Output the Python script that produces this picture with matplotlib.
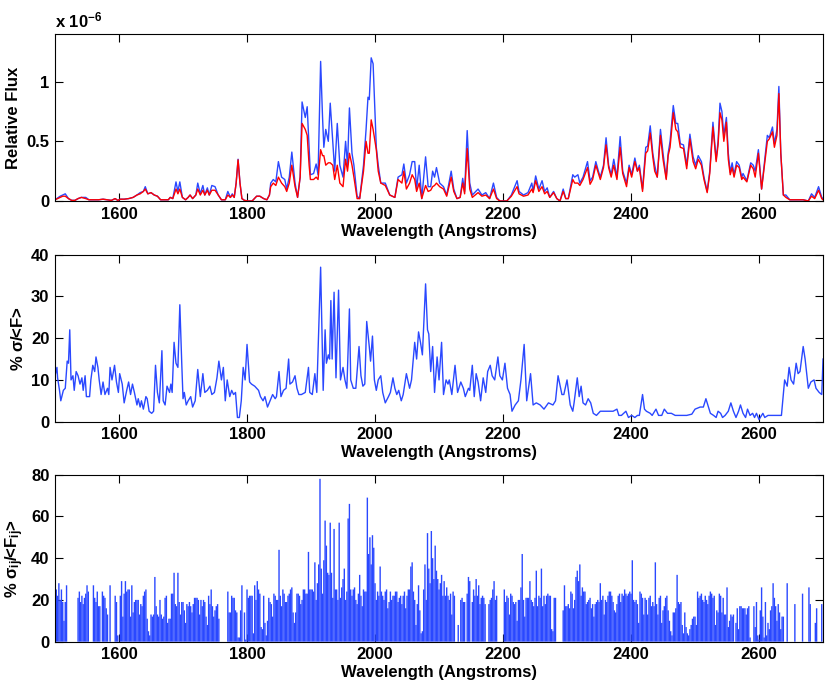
import numpy as np
import matplotlib
matplotlib.use('Agg')
from matplotlib import pyplot as plt

plt.rcParams['font.family'] = ['Liberation Sans', 'DejaVu Sans']
plt.rcParams['font.weight'] = 'bold'
plt.rcParams['font.size'] = 12
plt.rcParams['mathtext.default'] = 'regular'

# --- panel 1: relative flux (units of 1e-6), two spectra
wl1 = [1500, 1508, 1512, 1516, 1521, 1526, 1531, 1536, 1541, 1548, 1553, 1560, 1568, 1575, 1582,
       1588, 1594, 1598, 1602, 1608, 1615, 1622, 1628, 1633, 1638, 1641, 1645, 1650, 1655, 1660,
       1665, 1672, 1677, 1680, 1684, 1689, 1692, 1695, 1699, 1704, 1708, 1711, 1715, 1720, 1723,
       1727, 1731, 1734, 1738, 1741, 1745, 1750, 1755, 1760, 1766, 1770, 1774, 1777, 1780, 1783,
       1786, 1789, 1792, 1796, 1802, 1808, 1815, 1820, 1826, 1831, 1835, 1837, 1841, 1845, 1849,
       1854, 1859, 1862, 1866, 1870, 1875, 1879, 1883, 1886, 1891, 1894, 1897, 1899, 1904, 1908,
       1911, 1915, 1918, 1920, 1923, 1927, 1930, 1934, 1937, 1941, 1945, 1950, 1954, 1957, 1960,
       1964, 1967, 1972, 1976, 1982, 1986, 1989, 1991, 1994, 1997, 2002, 2005, 2009, 2016, 2023,
       2031, 2036, 2042, 2045, 2049, 2054, 2058, 2062, 2065, 2069, 2073, 2079, 2083, 2087, 2090,
       2093, 2096, 2101, 2107, 2112, 2119, 2123, 2128, 2133, 2137, 2140, 2144, 2148, 2152, 2161,
       2167, 2173, 2179, 2185, 2190, 2195, 2206, 2213, 2222, 2225, 2232, 2239, 2245, 2247, 2251,
       2256, 2261, 2265, 2269, 2273, 2279, 2284, 2289, 2294, 2298, 2302, 2309, 2312, 2317, 2320,
       2325, 2332, 2336, 2340, 2345, 2349, 2352, 2357, 2361, 2365, 2369, 2373, 2378, 2383, 2387,
       2393, 2397, 2401, 2406, 2410, 2413, 2418, 2423, 2426, 2430, 2434, 2437, 2441, 2446, 2450,
       2455, 2458, 2461, 2466, 2470, 2473, 2477, 2482, 2487, 2492, 2497, 2501, 2505, 2510, 2514,
       2519, 2523, 2528, 2533, 2536, 2539, 2542, 2545, 2549, 2552, 2555, 2558, 2561, 2565, 2569,
       2573, 2575, 2581, 2587, 2591, 2594, 2599, 2604, 2608, 2613, 2616, 2621, 2624, 2628, 2631,
       2634, 2638, 2642, 2648, 2659, 2669, 2677, 2682, 2687, 2693, 2698, 2700]
flux_blue = [0.01, 0.04, 0.05, 0.06, 0.02, 0.005, 0.005, 0.02, 0.03, 0.03, 0.01, 0.01, 0.01, 0.015, 0.01,
             0.005, 0.02, 0.005, 0.015, 0.015, 0.02, 0.03, 0.05, 0.07, 0.08, 0.12, 0.06, 0.07, 0.05, 0.04,
             0.01, 0.01, 0.01, 0.03, 0.02, 0.16, 0.08, 0.16, 0.03, 0.01, 0.03, 0.05, 0.02, 0.05, 0.15,
             0.06, 0.13, 0.05, 0.11, 0.05, 0.13, 0.12, 0.05, 0.01, 0.01, 0.08, 0.03, 0.06, 0.03, 0.15,
             0.35, 0.15, 0.02, 0.005, 0.0, 0.0, 0.04, 0.04, 0.02, 0.01, 0.05, 0.15, 0.18, 0.16, 0.33,
             0.2, 0.18, 0.1, 0.2, 0.41, 0.15, 0.03, 0.2, 0.83, 0.7, 0.79, 0.45, 0.22, 0.23, 0.31,
             0.22, 1.17, 0.7, 0.45, 0.6, 0.5, 0.82, 0.5, 0.25, 0.65, 0.3, 0.2, 0.5, 0.3, 0.78,
             0.4, 0.3, 0.04, 0.02, 0.3, 0.6, 0.87, 0.85, 1.2, 1.15, 0.45, 0.3, 0.15, 0.15, 0.05,
             0.03, 0.2, 0.22, 0.31, 0.15, 0.22, 0.33, 0.33, 0.1, 0.3, 0.02, 0.37, 0.12, 0.12, 0.25,
             0.2, 0.28, 0.15, 0.12, 0.05, 0.25, 0.1, 0.02, 0.03, 0.19, 0.08, 0.59, 0.15, 0.05, 0.1,
             0.05, 0.07, 0.02, 0.15, 0.03, 0.0, 0.0, 0.05, 0.17, 0.08, 0.05, 0.07, 0.15, 0.08, 0.21,
             0.1, 0.17, 0.08, 0.11, 0.03, 0.08, 0.02, 0.0, 0.1, 0.02, 0.02, 0.22, 0.2, 0.22, 0.15,
             0.2, 0.33, 0.17, 0.2, 0.33, 0.25, 0.2, 0.3, 0.53, 0.3, 0.22, 0.35, 0.2, 0.54, 0.25,
             0.15, 0.3, 0.22, 0.36, 0.25, 0.3, 0.1, 0.45, 0.46, 0.63, 0.4, 0.3, 0.2, 0.6, 0.4,
             0.19, 0.4, 0.5, 0.8, 0.65, 0.65, 0.48, 0.47, 0.3, 0.56, 0.37, 0.3, 0.38, 0.33, 0.2,
             0.08, 0.25, 0.66, 0.35, 0.5, 0.82, 0.75, 0.55, 0.7, 0.4, 0.24, 0.32, 0.22, 0.33, 0.3,
             0.2, 0.23, 0.17, 0.32, 0.3, 0.25, 0.43, 0.1, 0.3, 0.55, 0.53, 0.62, 0.48, 0.6, 0.96,
             0.4, 0.05, 0.05, 0.01, 0.01, 0.01, 0.0, 0.06, 0.03, 0.12, 0.03, 0.02]
flux_red = [0.01, 0.03, 0.04, 0.04, 0.02, 0.005, 0.005, 0.02, 0.03, 0.02, 0.01, 0.01, 0.01, 0.015, 0.01,
            0.005, 0.02, 0.005, 0.015, 0.015, 0.02, 0.03, 0.05, 0.06, 0.08, 0.1, 0.06, 0.07, 0.05, 0.04,
            0.01, 0.01, 0.01, 0.03, 0.02, 0.1, 0.06, 0.1, 0.03, 0.01, 0.03, 0.05, 0.02, 0.05, 0.1,
            0.05, 0.09, 0.05, 0.09, 0.05, 0.09, 0.09, 0.05, 0.01, 0.01, 0.05, 0.03, 0.05, 0.03, 0.15,
            0.345, 0.15, 0.02, 0.005, 0.0, 0.0, 0.04, 0.04, 0.02, 0.01, 0.05, 0.12, 0.15, 0.13, 0.2,
            0.15, 0.12, 0.08, 0.15, 0.3, 0.12, 0.03, 0.2, 0.65, 0.6, 0.55, 0.3, 0.18, 0.18, 0.2,
            0.18, 0.43, 0.38, 0.38, 0.3, 0.32, 0.32, 0.3, 0.18, 0.3, 0.15, 0.12, 0.35, 0.25, 0.4,
            0.3, 0.2, 0.02, 0.02, 0.25, 0.5, 0.4, 0.4, 0.68, 0.6, 0.43, 0.25, 0.15, 0.13, 0.05,
            0.03, 0.18, 0.15, 0.25, 0.1, 0.15, 0.22, 0.18, 0.08, 0.15, 0.02, 0.13, 0.08, 0.09, 0.12,
            0.13, 0.15, 0.12, 0.1, 0.04, 0.2, 0.08, 0.02, 0.03, 0.15, 0.06, 0.44, 0.1, 0.03, 0.07,
            0.04, 0.05, 0.02, 0.1, 0.02, 0.0, 0.0, 0.04, 0.12, 0.06, 0.04, 0.05, 0.1, 0.07, 0.17,
            0.08, 0.12, 0.06, 0.08, 0.03, 0.07, 0.02, 0.0, 0.08, 0.02, 0.02, 0.18, 0.15, 0.15, 0.13,
            0.18, 0.28, 0.14, 0.18, 0.3, 0.23, 0.18, 0.28, 0.47, 0.28, 0.2, 0.3, 0.18, 0.45, 0.23,
            0.12, 0.28, 0.2, 0.33, 0.25, 0.28, 0.08, 0.4, 0.42, 0.57, 0.37, 0.25, 0.2, 0.55, 0.35,
            0.18, 0.38, 0.45, 0.74, 0.6, 0.58, 0.45, 0.44, 0.27, 0.52, 0.33, 0.27, 0.35, 0.3, 0.18,
            0.07, 0.23, 0.62, 0.33, 0.47, 0.74, 0.68, 0.5, 0.66, 0.35, 0.22, 0.28, 0.2, 0.3, 0.28,
            0.18, 0.2, 0.16, 0.3, 0.27, 0.2, 0.4, 0.1, 0.28, 0.5, 0.52, 0.58, 0.45, 0.55, 0.9,
            0.4, 0.05, 0.03, 0.01, 0.01, 0.01, 0.0, 0.04, 0.02, 0.09, 0.02, 0.01]

# --- panel 2: % sigma / <F>
wl2 = [1500, 1503, 1504, 1507, 1509, 1513, 1516, 1518, 1519, 1521, 1523, 1525, 1528, 1530, 1533,
       1536, 1539, 1542, 1544, 1547, 1549, 1554, 1556, 1559, 1562, 1564, 1567, 1569, 1572, 1575,
       1578, 1582, 1584, 1586, 1589, 1593, 1596, 1599, 1601, 1605, 1608, 1612, 1615, 1618, 1621,
       1624, 1628, 1630, 1633, 1635, 1638, 1642, 1644, 1647, 1651, 1654, 1657, 1660, 1663, 1667,
       1669, 1672, 1675, 1679, 1681, 1683, 1686, 1689, 1692, 1695, 1698, 1700, 1702, 1705, 1708,
       1712, 1715, 1719, 1723, 1727, 1731, 1734, 1738, 1742, 1745, 1749, 1753, 1756, 1760, 1763,
       1766, 1769, 1773, 1776, 1779, 1782, 1785, 1788, 1791, 1794, 1797, 1800, 1804, 1807, 1812,
       1818, 1821, 1825, 1828, 1832, 1836, 1840, 1844, 1846, 1850, 1853, 1857, 1861, 1865, 1867,
       1871, 1875, 1878, 1881, 1885, 1891, 1896, 1898, 1902, 1906, 1909, 1915, 1918, 1919, 1922,
       1924, 1927, 1929, 1931, 1933, 1936, 1939, 1943, 1946, 1950, 1953, 1956, 1960, 1962, 1966,
       1970, 1975, 1978, 1981, 1984, 1987, 1991, 1993, 1996, 1999, 2002, 2005, 2009, 2012, 2016,
       2021, 2024, 2028, 2031, 2034, 2037, 2041, 2044, 2049, 2054, 2057, 2062, 2065, 2068, 2071,
       2074, 2079, 2082, 2084, 2087, 2090, 2093, 2097, 2100, 2104, 2107, 2111, 2114, 2116, 2120,
       2125, 2129, 2134, 2138, 2141, 2146, 2148, 2152, 2155, 2158, 2161, 2165, 2169, 2173, 2176,
       2180, 2183, 2187, 2192, 2195, 2199, 2203, 2207, 2211, 2214, 2219, 2224, 2228, 2233, 2237,
       2243, 2247, 2252, 2258, 2264, 2271, 2278, 2282, 2286, 2292, 2295, 2300, 2305, 2309, 2311,
       2316, 2319, 2322, 2325, 2329, 2333, 2337, 2341, 2346, 2352, 2359, 2367, 2372, 2378, 2381,
       2385, 2392, 2396, 2401, 2406, 2410, 2413, 2418, 2421, 2424, 2430, 2433, 2439, 2443, 2448,
       2452, 2457, 2463, 2469, 2476, 2487, 2495, 2500, 2508, 2513, 2517, 2521, 2524, 2529, 2533,
       2536, 2540, 2543, 2547, 2552, 2556, 2560, 2564, 2568, 2571, 2575, 2579, 2582, 2586, 2590,
       2593, 2596, 2600, 2606, 2609, 2614, 2622, 2633, 2635, 2640, 2644, 2647, 2650, 2654, 2658,
       2661, 2664, 2669, 2672, 2677, 2681, 2686, 2689, 2694, 2698, 2700]
sigma_pct = [11, 13, 10.5, 7.5, 5, 7.5, 8, 12.5, 14.5, 14, 22, 10, 11, 7.5, 12,
             11, 9, 10.5, 7.5, 11, 6, 6, 10, 13.5, 12, 15.5, 13, 10, 6.5, 9.5,
             6.5, 8, 6.5, 13, 10, 13.5, 9.5, 7, 11.5, 9, 4.5, 7.5, 9.5, 6.5, 9,
             7, 4, 5.5, 3.5, 5, 3, 6, 5.5, 2.5, 2, 2.5, 13.5, 7, 4.5, 17,
             5, 4, 8.5, 7, 9, 7, 19, 14, 13, 28, 14, 5.5, 7, 4, 5,
             6, 3.5, 5, 12.5, 6, 11.5, 7, 7.5, 8.5, 6.5, 7, 10.5, 14.5, 10, 13,
             5, 10, 6, 7.5, 6.5, 7, 1, 1, 5, 13, 10, 18.5, 9.5, 9, 8.5,
             7.5, 6, 5, 6, 3.5, 5, 6.5, 5.5, 6, 12, 6, 7.5, 8, 15, 9,
             9.5, 11, 8, 6.5, 6.5, 7, 13, 7, 6.5, 11.5, 7, 37, 15, 7.5, 22,
             14, 16, 15, 29, 15, 31, 10.5, 31.5, 10, 13, 10, 8, 27, 10, 8,
             8, 18, 11, 8.5, 9, 24, 18, 14.5, 20.5, 10, 7.5, 10, 11, 7, 4.5,
             6, 7, 10.5, 8, 6.5, 7.5, 5, 6.5, 11.5, 8, 10, 19, 15, 21.5, 19,
             16, 33, 22, 21, 12, 18, 7, 15.5, 10, 19, 6.5, 10, 9, 10, 6.5,
             13.5, 7, 9.5, 8, 6, 8, 7.5, 13.5, 6, 11.5, 9.5, 5, 10.5, 7, 12,
             13.5, 11, 10, 15.5, 11, 10, 14, 8, 6.5, 2.5, 4, 5, 10, 18.5, 5,
             11.5, 4, 4.5, 4, 3, 4.5, 4, 5, 11, 6.5, 6.5, 10, 4, 2.5, 4.5,
             10.5, 6, 8.5, 4.5, 4, 5.5, 4.5, 2, 1.5, 2.5, 2.5, 2.5, 2.5, 3, 1.5,
             1.5, 2.5, 1, 1.5, 1, 1.5, 1.5, 6.5, 3, 2.5, 2, 1.5, 3, 1.5, 1.5,
             3, 2, 2, 1.5, 1.5, 1.5, 1.8, 3, 3.5, 3.5, 5.5, 3.5, 2, 1.5, 1,
             2.5, 2, 1, 1.5, 2.5, 4.5, 2.5, 1, 2.5, 4, 2, 1, 3, 1.5, 2,
             1, 2, 0.5, 2, 1, 1.5, 1.5, 1.5, 1.5, 10, 8.5, 13, 10, 9, 14,
             11.5, 12, 18, 15, 8, 9.5, 10, 8, 7, 6.5, 15]

# --- panel 3: % sigma_ij / <F_ij>, one value per 2 A sample from 1500 A
wl3_start = 1500
wl3_step = 2
sigma_ij = [
    20, 25, 22, 28, 20, 25, 19, 10, 19, 27,   # 1500
    0, 0, 0, 0, 0, 0, 0, 0, 21, 24,           # 1520
    19, 22, 18, 21, 23, 27, 24, 0, 0, 0,      # 1540
    27, 21, 19, 24, 17, 17, 0, 24, 22, 21,    # 1560
    16, 13, 0, 27, 0, 0, 0, 22, 19, 3,        # 1580
    0, 22, 29, 12, 23, 29, 24, 25, 25, 12,    # 1600
    27, 14, 19, 20, 20, 20, 13, 18, 17, 22,   # 1620
    24, 25, 11, 5, 3, 13, 12, 13, 31, 17,     # 1640
    13, 12, 20, 13, 11, 12, 21, 22, 9, 11,    # 1660
    11, 23, 23, 33, 18, 17, 33, 19, 13, 19,   # 1680
    19, 15, 9, 18, 17, 19, 17, 14, 18, 21,    # 1700
    21, 21, 20, 13, 20, 17, 20, 19, 12, 8,    # 1720
    22, 18, 25, 17, 12, 15, 17, 18, 11, 0,    # 1740
    0, 0, 0, 0, 0, 24, 14, 14, 22, 21,        # 1760
    21, 15, 14, 2, 2, 15, 27, 0, 14, 1,       # 1780
    25, 21, 22, 22, 22, 4, 27, 20, 29, 25,    # 1800
    23, 7, 6, 22, 9, 3, 10, 21, 19, 18,       # 1820
    12, 23, 22, 20, 20, 44, 22, 17, 25, 23,   # 1840
    19, 19, 22, 23, 25, 26, 14, 9, 14, 23,    # 1860
    23, 22, 18, 20, 25, 25, 23, 23, 43, 25,   # 1880
    25, 25, 24, 38, 20, 28, 37, 78, 35, 23,   # 1900
    39, 58, 46, 33, 32, 57, 33, 21, 54, 25,   # 1920
    25, 20, 57, 21, 26, 30, 35, 20, 24, 59,   # 1940
    66, 25, 22, 25, 26, 20, 18, 23, 32, 22,   # 1960
    17, 25, 24, 24, 69, 42, 50, 37, 51, 45,   # 1980
    28, 20, 24, 22, 36, 24, 22, 20, 24, 25,   # 2000
    16, 19, 24, 20, 22, 22, 24, 24, 19, 21,   # 2020
    22, 18, 22, 24, 16, 22, 25, 25, 36, 38,   # 2040
    24, 20, 8, 18, 27, 15, 4, 5, 25, 37,      # 2060
    20, 52, 35, 28, 53, 40, 30, 46, 34, 30,   # 2080
    25, 28, 32, 22, 29, 22, 26, 22, 20, 23,   # 2100
    13, 24, 22, 0, 0, 8, 0, 20, 21, 19,       # 2120
    19, 0, 23, 31, 29, 0, 19, 25, 22, 30,     # 2140
    22, 27, 18, 21, 22, 21, 18, 0, 0, 18,     # 2160
    20, 21, 25, 29, 20, 22, 0, 0, 0, 0,       # 2180
    0, 25, 19, 22, 21, 13, 23, 22, 19, 18,    # 2200
    19, 10, 20, 20, 26, 42, 20, 12, 21, 21,   # 2220
    21, 29, 20, 19, 17, 21, 34, 17, 22, 21,   # 2240
    35, 17, 22, 18, 22, 23, 22, 22, 6, 5,     # 2260
    21, 21, 0, 0, 0, 0, 0, 15, 27, 17,        # 2280
    17, 18, 16, 24, 23, 16, 20, 31, 34, 29,   # 2300
    37, 22, 26, 24, 24, 18, 19, 20, 21, 16,   # 2320
    18, 12, 18, 19, 20, 19, 28, 20, 22, 13,   # 2340
    20, 19, 22, 24, 24, 22, 19, 15, 14, 18,   # 2360
    22, 23, 19, 23, 22, 25, 23, 22, 23, 24,   # 2380
    23, 39, 20, 19, 20, 18, 9, 24, 23, 21,    # 2400
    13, 21, 20, 13, 21, 22, 17, 19, 17, 38,   # 2420
    18, 13, 21, 22, 9, 15, 17, 21, 22, 15,    # 2440
    10, 5, 3, 14, 14, 16, 32, 19, 18, 19,     # 2460
    8, 4, 14, 7, 4, 3, 6, 8, 11, 12,          # 2480
    12, 8, 24, 21, 22, 23, 20, 19, 22, 20,    # 2500
    18, 22, 24, 23, 21, 22, 8, 15, 14, 23,    # 2520
    22, 14, 21, 13, 13, 26, 7, 10, 13, 12,    # 2540
    13, 0, 9, 16, 6, 17, 17, 16, 16, 16,      # 2560
    13, 16, 17, 2, 0, 0, 17, 7, 19, 3,        # 2580
    1, 15, 26, 12, 2, 19, 3, 9, 6, 15,        # 2600
    17, 28, 21, 17, 10, 18, 14, 6, 12, 12,    # 2620
    0, 0, 28, 0, 0, 0, 0, 0, 18, 0,           # 2640
    0, 0, 0, 0, 23, 0, 0, 0, 0, 26,           # 2660
    18, 0, 0, 0, 9, 16, 0, 0, 0, 18,          # 2680
]
wl3 = wl3_start + wl3_step * np.arange(len(sigma_ij))

xticks = [1600, 1800, 2000, 2200, 2400, 2600]
blue = '#2a48ff'
red = '#ff0000'
xlab = 'Wavelength (Angstroms)'


def style_axis(ax, ylim, yticks):
    ax.set_xlim(1500, 2700)
    ax.set_ylim(*ylim)
    ax.set_xticks(xticks)
    ax.set_yticks(yticks)
    ax.tick_params(direction='in', top=True, right=True, length=5.5, width=0.8, labelsize=12, pad=4)
    for s in ax.spines.values():
        s.set_linewidth(0.8)
    ax.set_xlabel(xlab, fontsize=12, fontweight='bold', labelpad=2)


fig = plt.figure(figsize=(8.3, 6.89), dpi=100)
ax1 = fig.add_axes([0.0663, 0.7083, 0.9253, 0.2424])
ax2 = fig.add_axes([0.0663, 0.388, 0.9253, 0.2424])
ax3 = fig.add_axes([0.0663, 0.0687, 0.9253, 0.2424])

ax1.plot(wl1, flux_blue, color=blue, lw=1.0)
ax1.plot(wl1, flux_red, color=red, lw=1.0)
style_axis(ax1, (0, 1.4), [0, 0.5, 1])
ax1.set_yticklabels(['0', '0.5', '1'])
ax1.set_ylabel('Relative Flux', fontsize=12, fontweight='bold')
ax1.text(0.0, 1.04, r'x 10$^{-6}$', transform=ax1.transAxes, fontsize=12, fontweight='bold')

ax2.plot(wl2, sigma_pct, color=blue, lw=1.0)
style_axis(ax2, (0, 40), [0, 10, 20, 30, 40])
ax2.set_ylabel(r'% $\sigma$/<F>', fontsize=12, fontweight='bold')

bars = ax3.vlines(wl3, 0, sigma_ij, color=blue, lw=1.0)
bars.set_snap(False)
style_axis(ax3, (0, 80), [0, 20, 40, 60, 80])
ax3.set_ylabel(r'% $\sigma_{ij}$/<F$_{ij}$>', fontsize=12, fontweight='bold')

fig.savefig('out.png', dpi=100)
